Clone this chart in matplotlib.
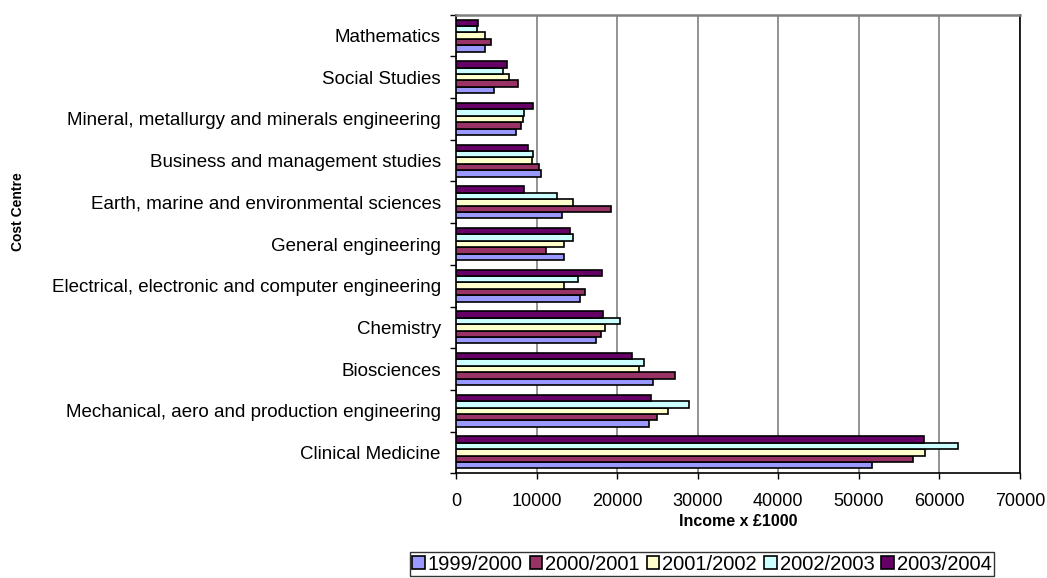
import matplotlib
matplotlib.use("Agg")
import matplotlib.pyplot as plt
import numpy as np

plt.rcParams['font.family'] = ['Liberation Sans', 'DejaVu Sans']

categories = [
    "Clinical Medicine",
    "Mechanical, aero and production engineering",
    "Biosciences",
    "Chemistry",
    "Electrical, electronic and computer engineering",
    "General engineering",
    "Earth, marine and environmental sciences",
    "Business and management studies",
    "Mineral, metallurgy and minerals engineering",
    "Social Studies",
    "Mathematics",
]

years = ["1999/2000", "2000/2001", "2001/2002", "2002/2003", "2003/2004"]

income_1999 = [51600, 24000, 24450, 17400, 15400, 13400, 13150, 10500, 7400, 4750, 3600]
income_2000 = [56750, 24900, 27150, 18050, 16050, 11150, 19200, 10250, 8100, 7700, 4300]
income_2001 = [58250, 26250, 22700, 18500, 13400, 13400, 14500, 9400, 8300, 6550, 3600]
income_2002 = [62300, 28900, 23350, 20300, 15150, 14500, 12500, 9600, 8500, 5800, 2650]
income_2003 = [58100, 24250, 21800, 18250, 18100, 14200, 8500, 8950, 9600, 6300, 2750]

series = [income_1999, income_2000, income_2001, income_2002, income_2003]
colors = ["#9999FF", "#993366", "#FFFFCC", "#CCFFFF", "#660066"]

xticks = [0, 10000, 20000, 30000, 40000, 50000, 60000, 70000]

W, H = 1047, 578
fig = plt.figure(figsize=(W / 100, H / 100), dpi=100)
ax = fig.add_axes([456 / W, 1 - 473.3 / H, (1020 - 456) / W, (473.3 - 14.7) / H])

n = len(series)
group = n / (n + 1.5)
bh = group / n
y = np.arange(len(categories))
for i, (vals, col, lab) in enumerate(zip(series, colors, years)):
    offs = -group / 2 + (i + 0.5) * bh
    ax.barh(y + offs, vals, height=bh, color=col, edgecolor="black",
            linewidth=1.2, label=lab, zorder=3)

ax.set_xlim(0, 70000)
ax.set_ylim(-0.5, len(categories) - 0.5)
ax.set_xticks(xticks)
ax.set_xticklabels([str(t) for t in xticks], fontsize=13)
ax.set_yticks(y)
ax.set_yticklabels(categories, fontsize=13.5)
ax.set_yticks(np.arange(-0.5, len(categories)), minor=True)
ax.tick_params(axis="y", which="major", length=0, pad=11)
ax.tick_params(axis="y", which="minor", length=4, width=1, direction="out", color="black")
ax.tick_params(axis="x", which="major", length=4, width=1, direction="out", pad=10.5)

ax.xaxis.grid(True, color="#808080", linewidth=1.2, zorder=0)
ax.set_axisbelow(True)

for side in ["left", "bottom", "right"]:
    ax.spines[side].set_color("black")
    ax.spines[side].set_linewidth(1.2)
ax.spines["top"].set_color("#808080")
ax.spines["top"].set_linewidth(1.8)

fig.text(738 / W, 1 - 522 / H, "Income x £1000", ha="center", va="center",
         fontsize=11.5, fontweight="bold")
fig.text(18 / W, 1 - 212 / H, "Cost Centre", ha="center", va="center",
         rotation=90, fontsize=10, fontweight="bold")

handles, labels = ax.get_legend_handles_labels()
leg = fig.legend(handles, labels, loc="center", bbox_to_anchor=(702 / W, 1 - 564 / H),
                 ncol=5, fontsize=14.5, frameon=True, fancybox=False,
                 handlelength=0.62, handleheight=0.62, handletextpad=0.15,
                 columnspacing=0.35, borderpad=0.1, borderaxespad=0)
leg.get_frame().set_edgecolor("black")
leg.get_frame().set_linewidth(1.0)

fig.savefig("out.png", dpi=100)
